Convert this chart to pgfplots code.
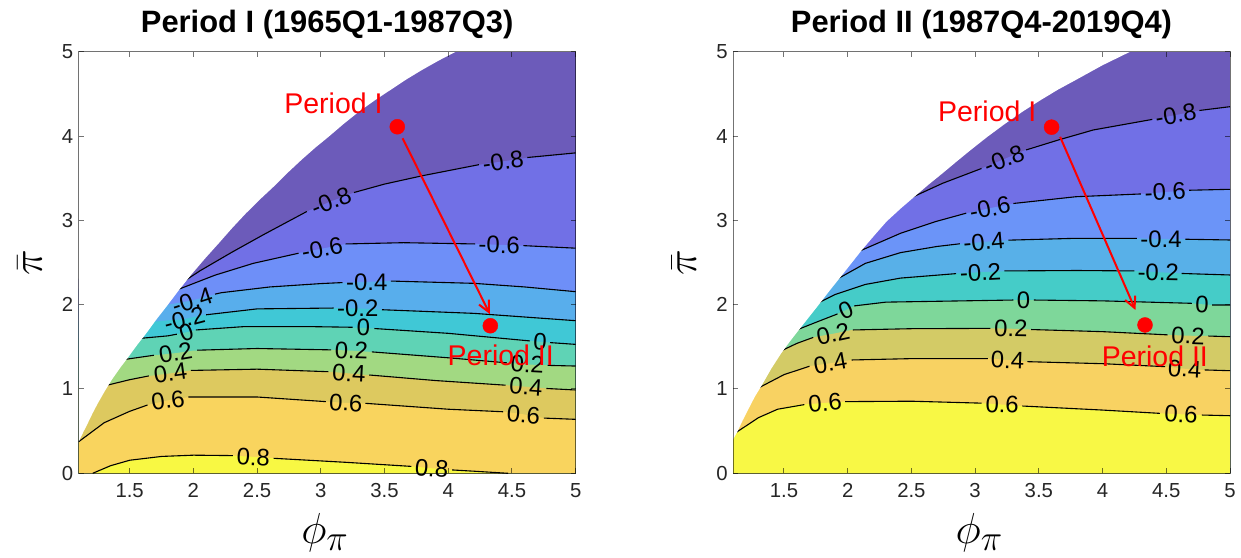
\documentclass[border=0pt]{standalone}
\usepackage{fontspec}
\setmainfont{Liberation Sans}
\usepackage{pgfplots}
\pgfplotsset{compat=1.18}
\usetikzlibrary{arrows.meta}
\definecolor{L1}{HTML}{6C5BBA}\definecolor{L2}{HTML}{7170E6}\definecolor{L3}{HTML}{6E8FF8}
\definecolor{L4}{HTML}{58AEEC}\definecolor{L5}{HTML}{40C8D6}\definecolor{L6}{HTML}{5FD3B5}
\definecolor{L7}{HTML}{A2D982}\definecolor{L8}{HTML}{DDC95F}\definecolor{L9}{HTML}{F9D45E}
\definecolor{L10}{HTML}{F8F843}
\definecolor{R1}{HTML}{6C5BBA}\definecolor{R2}{HTML}{7170E6}\definecolor{R3}{HTML}{6B94F8}
\definecolor{R4}{HTML}{58B0E8}\definecolor{R5}{HTML}{45CCC8}\definecolor{R6}{HTML}{7ED79A}
\definecolor{R7}{HTML}{D3CB66}\definecolor{R8}{HTML}{F8D262}\definecolor{R9}{HTML}{F8F845}
\newcommand\labfont{\fontsize{24}{28}\selectfont}
\newcommand\redfont{\fontsize{28.6}{32}\selectfont}
\newcommand\clab[4]{\node[font=\labfont,rotate=#3,inner sep=0pt,anchor=center] at (axis cs:#1,#2) {#4};}
\pgfplotsset{myax/.style={
 scale only axis, width=497bp, height=421.6bp,
 xmin=1.1,xmax=5,ymin=0,ymax=5,
 xtick={1.5,2,...,5}, ytick={0,1,...,5},
 tick align=inside, major tick length=5bp,
 axis on top, clip=false, unbounded coords=jump,
 axis line style={draw=black,draw opacity=0.55,line width=1bp},
 tick style={draw=black,draw opacity=0.55,line width=1bp},
 ticklabel style={font=\fontsize{20.4}{24}\selectfont, text=black!85},
 /pgf/number format/assume math mode=true,
 xticklabel style={yshift=-6.6bp},
 yticklabel style={xshift=-1.9bp},
 title style={font=\bfseries\fontsize{31}{36}\selectfont, at={(0.5,1.0318)}, anchor=base},
 xlabel={$\phi_\pi$}, ylabel={$\bar{\pi}$},
 xlabel style={font=\fontsize{24.88}{30}\selectfont, scale=1.75, at={(0.4956,-0.1416)}, anchor=center, inner sep=0pt},
 ylabel style={font=\fontsize{24.88}{30}\selectfont, scale=1.75, at={(-0.0986,0.5)}, anchor=center, inner sep=0pt},
 cline/.style={black, line width=1.1bp},
}}
\begin{document}
\begin{tikzpicture}
\path[use as bounding box] (0,0) rectangle (1241bp,-558bp);
% ================= LEFT =================
\begin{axis}[myax, at={(78.7bp,-473.3bp)}, anchor=south west, title={Period I (1965Q1-1987Q3)}]
\addplot[draw=none, fill=L1] coordinates {(1.1,0)(5,0)(5,5)(1.1,5)} --cycle;
\addplot[draw=none, fill=L2] coordinates {(1.1,2.31)(1.96,2.31)(2.05,2.40)(2.3,2.62)(2.55,2.83)(2.85,3.08)(3.08,3.225)(3.28,3.34)(3.5,3.43)(3.8,3.53)(4.2,3.65)(4.43,3.70)(4.66,3.75)(5,3.80)(5,0)(1.1,0)} --cycle;
\addplot[draw=none, fill=L3] coordinates {(1.1,2.19)(1.90,2.19)(2.17,2.35)(2.47,2.49)(2.82,2.61)(3.01,2.665)(3.2,2.72)(3.65,2.735)(4.22,2.72)(4.40,2.71)(4.59,2.70)(5,2.67)(5,0)(1.1,0)} --cycle;
\addplot[draw=none, fill=L4] coordinates {(1.1,2.00)(1.80,2.00)(1.99,2.05)(2.22,2.142)(2.6,2.21)(3.0,2.25)(3.36,2.27)(3.59,2.284)(4.2,2.253)(4.6,2.21)(5,2.154)(5,0)(1.1,0)} --cycle;
\addplot[draw=none, fill=L5] coordinates {(1.1,1.80)(1.70,1.80)(1.93,1.83)(2.09,1.88)(2.5,1.95)(3.1,1.96)(3.29,1.956)(3.52,1.937)(4.2,1.897)(5,1.81)(5,0)(1.1,0)} --cycle;
\addplot[draw=none, fill=L6] coordinates {(1.1,1.60)(1.60,1.60)(1.80,1.63)(1.94,1.67)(2.05,1.71)(2.4,1.74)(2.9,1.74)(3.335,1.725)(3.44,1.715)(4.0,1.66)(4.6,1.575)(4.72,1.56)(4.85,1.545)(5,1.529)(5,0)(1.1,0)} --cycle;
\addplot[draw=none, fill=L7] coordinates {(1.1,1.36)(1.48,1.36)(1.70,1.40)(1.86,1.425)(2.0,1.455)(2.5,1.48)(3.09,1.464)(3.24,1.455)(3.39,1.44)(4.0,1.37)(4.47,1.31)(4.62,1.29)(4.80,1.28)(5,1.272)(5,0)(1.1,0)} --cycle;
\addplot[draw=none, fill=L8] coordinates {(1.1,1.05)(1.33,1.05)(1.5,1.11)(1.66,1.155)(1.82,1.185)(1.98,1.22)(2.5,1.235)(3.06,1.205)(3.22,1.185)(3.36,1.166)(3.9,1.10)(4.44,1.047)(4.61,1.027)(4.76,1.008)(5,0.988)(5,0)(1.1,0)} --cycle;
\addplot[draw=none, fill=L9] coordinates {(1.1,0.375)(1.3,0.60)(1.5,0.735)(1.64,0.81)(1.80,0.865)(1.97,0.905)(2.5,0.905)(3.047,0.85)(3.196,0.835)(3.344,0.83)(4.0,0.76)(4.44,0.73)(4.59,0.70)(4.76,0.652)(5,0.640)(5,0)(1.1,0)} --cycle;
\addplot[draw=none, fill=L10] coordinates {(1.21,0)(1.35,0.09)(1.5,0.155)(1.75,0.20)(2.0,0.215)(2.3,0.21)(2.47,0.195)(2.64,0.178)(3.2,0.13)(3.74,0.079)(3.87,0.06)(4.02,0.04)(4.2,0.025)(4.47,0)} --cycle;
% contour lines
\addplot[cline] coordinates {(1.94,2.29)(2.05,2.40)(2.3,2.62)(2.55,2.83)(2.89,3.105)(nan,nan)(3.26,3.33)(3.5,3.43)(3.8,3.53)(4.24,3.66)(nan,nan)(4.62,3.745)(5,3.80)};
\addplot[cline] coordinates {(1.88,2.18)(2.17,2.35)(2.47,2.49)(2.825,2.61)(nan,nan)(3.195,2.72)(3.65,2.735)(4.21,2.72)(nan,nan)(4.59,2.70)(5,2.67)};
\addplot[cline] coordinates {(2.17,2.125)(2.22,2.142)(2.6,2.21)(3.0,2.25)(3.17,2.262)(nan,nan)(3.55,2.28)(4.2,2.253)(4.6,2.21)(5,2.154)};
\addplot[cline] coordinates {(2.10,1.88)(2.5,1.95)(3.1,1.96)(nan,nan)(3.48,1.94)(4.2,1.897)(5,1.81)};
\addplot[cline] coordinates {(1.58,1.60)(1.80,1.63)(1.87,1.65)(nan,nan)(2.02,1.70)(2.4,1.74)(2.9,1.74)(3.25,1.732)(nan,nan)(3.42,1.717)(4.0,1.66)(4.64,1.57)(nan,nan)(4.80,1.55)(5,1.529)};
\addplot[cline] coordinates {(1.46,1.35)(1.69,1.40)(nan,nan)(2.03,1.46)(2.5,1.48)(3.08,1.464)(nan,nan)(3.40,1.44)(4.0,1.37)(4.46,1.31)(nan,nan)(4.78,1.28)(5,1.272)};
\addplot[cline] coordinates {(1.31,1.04)(1.5,1.11)(1.65,1.155)(nan,nan)(1.98,1.22)(2.5,1.235)(3.06,1.205)(nan,nan)(3.38,1.166)(3.9,1.10)(4.45,1.045)(nan,nan)(4.77,1.006)(5,0.988)};
\addplot[cline] coordinates {(1.1,0.375)(1.3,0.60)(1.5,0.735)(1.64,0.81)(nan,nan)(1.96,0.905)(2.5,0.905)(3.04,0.85)(nan,nan)(3.35,0.83)(4.0,0.76)(4.43,0.73)(nan,nan)(4.75,0.655)(5,0.640)};
\addplot[cline] coordinates {(1.21,0)(1.35,0.09)(1.5,0.155)(1.75,0.20)(2.0,0.215)(2.31,0.21)(nan,nan)(2.63,0.178)(3.2,0.13)(3.71,0.082)(nan,nan)(4.03,0.04)(4.2,0.025)(4.47,0)};
% white (indeterminacy) region
\addplot[draw=none, fill=white] coordinates {(1.1,0.375)(1.135,0.485)(1.17,0.59)(1.21,0.715)(1.25,0.83)(1.305,0.975)(1.36,1.11)(1.425,1.25)(1.49,1.38)(1.56,1.525)(1.63,1.66)(1.71,1.825)(1.79,1.98)(1.885,2.17)(1.98,2.35)(2.09,2.545)(2.20,2.73)(2.305,2.91)(2.41,3.08)(2.52,3.245)(2.63,3.40)(2.74,3.565)(2.85,3.72)(2.955,3.86)(3.06,3.99)(3.18,4.145)(3.30,4.29)(3.425,4.425)(3.55,4.55)(3.67,4.67)(3.79,4.78)(3.925,4.895)(4.06,5.0)(1.1,5.0)} --cycle;
% labels
\clab{3.08}{3.225}{22}{-0.8}\clab{4.43}{3.70}{8}{-0.8}
\clab{3.01}{2.665}{11}{-0.6}\clab{4.40}{2.71}{-1}{-0.6}
\clab{1.99}{2.05}{18}{-0.4}\clab{3.36}{2.27}{0}{-0.4}
\clab{1.93}{1.83}{15}{-0.2}\clab{3.29}{1.956}{0}{-0.2}
\clab{1.945}{1.675}{20}{0}\clab{3.335}{1.725}{-1}{0}\clab{4.72}{1.56}{-4}{0}
\clab{1.86}{1.43}{10}{0.2}\clab{3.24}{1.455}{-2}{0.2}\clab{4.62}{1.29}{-3}{0.2}
\clab{1.82}{1.19}{8}{0.4}\clab{3.22}{1.185}{-3}{0.4}\clab{4.61}{1.027}{-4}{0.4}
\clab{1.80}{0.865}{8}{0.6}\clab{3.196}{0.835}{-3}{0.6}\clab{4.59}{0.695}{-4}{0.6}
\clab{2.47}{0.19}{-3}{0.8}\clab{3.87}{0.058}{-5}{0.8}
% red
\addplot[red, line width=2bp, -{Straight Barb[length=11bp,width=11bp]}] coordinates {(3.642,3.973)(4.326,1.889)};
\addplot[only marks, mark=*, mark size=7.5bp, draw=red, fill=red] coordinates {(3.6,4.11)(4.33,1.75)};
\node[text=red, font=\redfont, anchor=base, inner sep=0pt] at (axis cs:3.099,4.27) {Period I};
\node[text=red, font=\redfont, anchor=base, inner sep=0pt] at (axis cs:4.412,1.284) {Period II};
\end{axis}
% ================= RIGHT =================
\begin{axis}[myax, at={(733bp,-473.3bp)}, anchor=south west, title={Period II (1987Q4-2019Q4)}]
\addplot[draw=none, fill=R1] coordinates {(1.1,0)(5,0)(5,5)(1.1,5)} --cycle;
\addplot[draw=none, fill=R2] coordinates {(1.1,3.281)(2.524,3.281)(2.744,3.439)(3.02,3.597)(3.226,3.725)(3.446,3.866)(3.653,3.953)(3.928,4.072)(4.368,4.19)(4.575,4.249)(4.781,4.309)(5,4.348)(5,0)(1.1,0)} --cycle;
\addplot[draw=none, fill=R3] coordinates {(1.1,2.649)(2.119,2.649)(2.414,2.846)(2.689,2.985)(2.91,3.075)(3.116,3.145)(3.35,3.21)(3.79,3.28)(4.313,3.313)(4.492,3.335)(4.699,3.36)(5,3.368)(5,0)(1.1,0)} --cycle;
\addplot[draw=none, fill=R4] coordinates {(1.1,2.29)(1.905,2.29)(2.139,2.49)(2.414,2.617)(2.7,2.69)(2.882,2.72)(3.069,2.745)(3.281,2.767)(3.79,2.787)(4.258,2.787)(4.459,2.78)(4.671,2.775)(5,2.767)(5,0)(1.1,0)} --cycle;
\addplot[draw=none, fill=R5] coordinates {(1.1,2.016)(1.767,2.016)(1.9,2.12)(2.139,2.24)(2.414,2.315)(2.8,2.365)(3.042,2.385)(3.28,2.40)(3.8,2.405)(4.25,2.40)(4.437,2.385)(4.62,2.37)(5,2.352)(5,0)(1.1,0)} --cycle;
\addplot[draw=none, fill=R6] coordinates {(1.1,1.707)(1.616,1.707)(1.75,1.79)(1.87,1.86)(1.985,1.935)(2.06,1.99)(2.3,2.03)(3.3,2.055)(3.46,2.055)(4.0,2.045)(4.70,2.016)(4.78,2.005)(4.86,1.996)(5,1.996)(5,0)(1.1,0)} --cycle;
\addplot[draw=none, fill=R7] coordinates {(1.1,1.462)(1.492,1.462)(1.6,1.54)(1.726,1.612)(1.886,1.655)(2.029,1.699)(2.5,1.715)(3.13,1.719)(3.281,1.715)(3.432,1.705)(4.0,1.68)(4.534,1.64)(4.671,1.632)(4.836,1.628)(5,1.62)(5,0)(1.1,0)} --cycle;
\addplot[draw=none, fill=R8] coordinates {(1.1,1.035)(1.327,1.035)(1.5,1.17)(1.671,1.265)(1.864,1.305)(2.029,1.344)(2.5,1.36)(3.102,1.363)(3.254,1.344)(3.405,1.324)(4.0,1.30)(4.506,1.265)(4.644,1.24)(4.809,1.225)(5,1.217)(5,0)(1.1,0)} --cycle;
\addplot[draw=none, fill=R9] coordinates {(1.1,0.494)(1.134,0.494)(1.3,0.66)(1.45,0.76)(1.588,0.81)(1.822,0.835)(1.974,0.85)(2.5,0.855)(3.075,0.83)(3.212,0.815)(3.364,0.798)(4.0,0.75)(4.451,0.711)(4.616,0.70)(4.781,0.691)(5,0.683)(5,0)(1.1,0)} --cycle;
% contour lines
\addplot[cline] coordinates {(2.50,3.27)(2.744,3.439)(3.05,3.615)(nan,nan)(3.40,3.835)(3.653,3.953)(3.928,4.072)(4.39,4.197)(nan,nan)(4.76,4.303)(5,4.348)};
\addplot[cline] coordinates {(2.10,2.64)(2.414,2.846)(2.689,2.985)(2.93,3.085)(nan,nan)(3.30,3.20)(3.79,3.28)(4.30,3.313)(nan,nan)(4.68,3.357)(5,3.368)};
\addplot[cline] coordinates {(1.89,2.28)(2.139,2.49)(2.414,2.617)(2.7,2.69)(2.88,2.722)(nan,nan)(3.26,2.765)(3.79,2.787)(4.27,2.787)(nan,nan)(4.65,2.776)(5,2.767)};
\addplot[cline] coordinates {(1.75,2.005)(1.9,2.12)(2.139,2.24)(2.414,2.315)(2.85,2.368)(nan,nan)(3.23,2.40)(3.8,2.405)(4.25,2.40)(nan,nan)(4.62,2.37)(5,2.352)};
\addplot[cline] coordinates {(1.60,1.70)(1.75,1.79)(1.92,1.89)(nan,nan)(2.05,1.985)(2.3,2.03)(3.30,2.055)(nan,nan)(3.46,2.055)(4.0,2.045)(4.70,2.016)(nan,nan)(4.86,1.996)(5,1.996)};
\addplot[cline] coordinates {(1.475,1.45)(1.6,1.54)(1.73,1.612)(nan,nan)(2.04,1.70)(2.5,1.715)(3.12,1.719)(nan,nan)(3.44,1.705)(4.0,1.68)(4.51,1.642)(nan,nan)(4.83,1.628)(5,1.62)};
\addplot[cline] coordinates {(1.31,1.02)(1.5,1.17)(1.70,1.27)(nan,nan)(2.03,1.344)(2.5,1.36)(3.10,1.36)(nan,nan)(3.41,1.324)(4.0,1.30)(4.49,1.265)(nan,nan)(4.80,1.226)(5,1.217)};
\addplot[cline] coordinates {(1.12,0.48)(1.3,0.66)(1.45,0.76)(1.66,0.815)(nan,nan)(1.98,0.85)(2.5,0.855)(3.05,0.832)(nan,nan)(3.37,0.798)(4.0,0.75)(4.45,0.711)(nan,nan)(4.78,0.691)(5,0.683)};
% white region
\addplot[draw=none, fill=white] coordinates {(1.1,0.40)(1.134,0.493)(1.175,0.625)(1.217,0.75)(1.27,0.905)(1.327,1.047)(1.40,1.24)(1.478,1.423)(1.547,1.565)(1.616,1.699)(1.70,1.86)(1.781,2.015)(1.863,2.176)(1.946,2.332)(2.03,2.493)(2.111,2.648)(2.21,2.823)(2.304,2.985)(2.414,3.138)(2.524,3.281)(2.634,3.423)(2.744,3.558)(2.855,3.698)(2.965,3.834)(3.10,3.995)(3.24,4.151)(3.375,4.292)(3.515,4.427)(3.65,4.55)(3.79,4.665)(4.0,4.84)(4.217,5.0)(1.1,5.0)} --cycle;
% labels
\clab{3.226}{3.725}{22}{-0.8}\clab{4.575}{4.25}{10}{-0.8}
\clab{3.116}{3.145}{11}{-0.6}\clab{4.492}{3.335}{3}{-0.6}
\clab{3.069}{2.745}{5}{-0.4}\clab{4.459}{2.78}{0}{-0.4}
\clab{3.042}{2.385}{3}{-0.2}\clab{4.437}{2.385}{-1}{-0.2}
\clab{1.985}{1.935}{24}{0}\clab{3.38}{2.055}{0}{0}\clab{4.78}{2.005}{-2}{0}
\clab{1.886}{1.655}{12}{0.2}\clab{3.281}{1.715}{-1}{0.2}\clab{4.671}{1.632}{-2}{0.2}
\clab{1.864}{1.305}{10}{0.4}\clab{3.254}{1.344}{-2}{0.4}\clab{4.644}{1.24}{-3}{0.4}
\clab{1.822}{0.835}{5}{0.6}\clab{3.212}{0.815}{-2}{0.6}\clab{4.616}{0.70}{-3}{0.6}
% red
\addplot[red, line width=2bp, -{Straight Barb[length=11bp,width=11bp]}] coordinates {(3.667,3.99)(4.258,1.937)};
\addplot[only marks, mark=*, mark size=7.5bp, draw=red, fill=red] coordinates {(3.6,4.105)(4.333,1.759)};
\node[text=red, font=\redfont, anchor=base, inner sep=0pt] at (axis cs:3.095,4.17) {Period I};
\node[text=red, font=\redfont, anchor=base, inner sep=0pt] at (axis cs:4.41,1.272) {Period II};
\end{axis}
\end{tikzpicture}
\end{document}
